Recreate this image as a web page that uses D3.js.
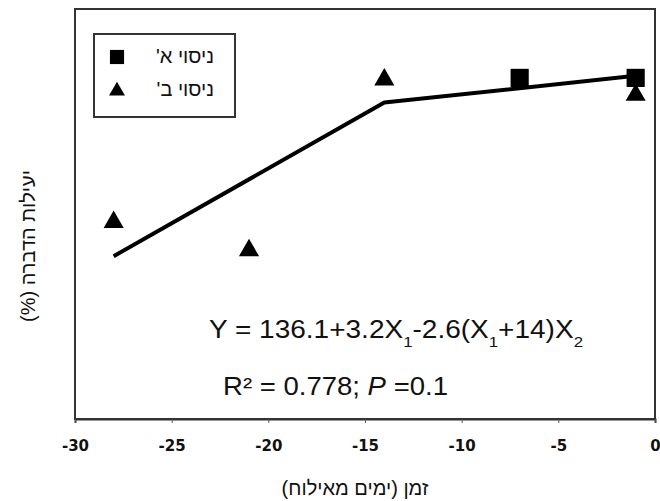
<!DOCTYPE html>
<html>
<head>
<meta charset="utf-8">
<script src="https://cdn.jsdelivr.net/npm/d3@7"></script>
<style>
  body { margin: 0; background: #fff; }
  svg text { font-family: "Liberation Sans", Arial, sans-serif; fill: #111; }
</style>
</head>
<body>
<div id="chart"></div>
<script>
// data
var daysA = [-7, -1];
var valuesA = [98.5, 98.5];
var daysB = [-28, -21, -14, -1];
var valuesB = [56.4, 48.2, 98.0, 93.5];
var fitDays = [-28, -14, -1];
var fitValues = [46.5, 91.3, 99.1];
var xTicks = [-30, -25, -20, -15, -10, -5, 0];
var legendLabels = ["ניסוי א'", "ניסוי ב'"];

var svgWidth = 660;
var svgHeight = 501;

var margin = { top: 9, right: 5, bottom: 82, left: 75 };
var width = svgWidth - margin.left - margin.right;
var height = svgHeight - margin.top - margin.bottom;

var svg = d3.select("#chart")
  .append("svg")
  .attr("width", svgWidth)
  .attr("height", svgHeight);

var chartGroup = svg.append("g")
  .attr("transform", `translate(${margin.left}, ${margin.top})`);

var xScale = d3.scaleLinear().domain([-30, 0]).range([0, width]);
var yScale = d3.scaleLinear().domain([-1, 118.6]).range([height, 0]);

// frame
chartGroup.append("rect")
  .attr("x", 0)
  .attr("y", 0)
  .attr("width", width)
  .attr("height", height)
  .attr("fill", "none")
  .attr("stroke", "#333")
  .attr("stroke-width", 2);

var bottomAxis = d3.axisBottom(xScale)
  .tickValues(xTicks)
  .tickSize(4)
  .tickPadding(17)
  .tickFormat(d3.format("d"));

var xAxis = chartGroup.append("g")
  .attr("transform", `translate(0, ${height})`)
  .call(bottomAxis);

xAxis.select(".domain").attr("stroke", "#333").attr("stroke-width", 2);
xAxis.selectAll(".tick line").attr("stroke", "#555");
xAxis.selectAll(".tick text")
  .attr("font-size", 15)
  .attr("font-weight", "bold")
  .style("font-family", "'DejaVu Sans', sans-serif")
  .attr("fill", "#333")
  .text(d => d < 0 ? "-" + Math.abs(d) : d);

// fitted line
var line = d3.line()
  .x((d, i) => xScale(fitDays[i]))
  .y(d => yScale(d));

chartGroup.append("path")
  .datum(fitValues)
  .attr("d", line)
  .attr("fill", "none")
  .attr("stroke", "#000")
  .attr("stroke-width", 4)
  .attr("stroke-linejoin", "round");

var square = d3.symbol().type(d3.symbolSquare).size(330);
var triangle = d3.symbol().type(d3.symbolTriangle).size(175);

chartGroup.selectAll(".ptA")
  .data(valuesA)
  .enter()
  .append("path")
  .attr("class", "ptA")
  .attr("d", square)
  .attr("transform", (d, i) => `translate(${xScale(daysA[i])}, ${yScale(d)})`)
  .attr("fill", "#000");

chartGroup.selectAll(".ptB")
  .data(valuesB)
  .enter()
  .append("path")
  .attr("class", "ptB")
  .attr("d", triangle)
  .attr("transform", (d, i) => `translate(${xScale(daysB[i])}, ${yScale(d)})`)
  .attr("fill", "#000");

// legend
var legend = svg.append("g");
legend.append("rect")
  .attr("x", 94)
  .attr("y", 34)
  .attr("width", 141)
  .attr("height", 83)
  .attr("fill", "#fff")
  .attr("stroke", "#333")
  .attr("stroke-width", 2);

legend.append("path")
  .attr("d", square.size(200)())
  .attr("transform", "translate(117, 57)");
legend.append("path")
  .attr("d", triangle.size(110)())
  .attr("transform", "translate(117, 91)");

legend.selectAll(".legText")
  .data(legendLabels)
  .enter()
  .append("text")
  .attr("class", "legText")
  .attr("x", 214)
  .attr("y", (d, i) => 63 + i * 33)
  .attr("direction", "rtl")
  .attr("text-anchor", "start")
  .attr("font-size", 20)
  .attr("fill", "#222")
  .text(d => d);

// equation
var eq = svg.append("text")
  .attr("x", 209)
  .attr("y", 338)
  .attr("font-size", 25)
  .attr("textLength", 374)
  .attr("lengthAdjust", "spacingAndGlyphs")
  .attr("fill", "#222");
eq.append("tspan").text("Y = 136.1+3.2X");
eq.append("tspan").attr("baseline-shift", "sub").attr("font-size", 15).text("1");
eq.append("tspan").text("-2.6(X");
eq.append("tspan").attr("baseline-shift", "sub").attr("font-size", 15).text("1");
eq.append("tspan").text("+14)X");
eq.append("tspan").attr("baseline-shift", "sub").attr("font-size", 15).text("2");

var r2 = svg.append("text")
  .attr("x", 223)
  .attr("y", 395)
  .attr("font-size", 25)
  .attr("textLength", 225)
  .attr("lengthAdjust", "spacingAndGlyphs")
  .attr("fill", "#222");
r2.append("tspan").text("R² = 0.778; ");
r2.append("tspan").attr("font-style", "italic").text("P");
r2.append("tspan").text(" =0.1");

// axis titles
svg.append("text")
  .attr("x", 355)
  .attr("y", 495)
  .attr("direction", "rtl")
  .attr("text-anchor", "middle")
  .attr("font-size", 20)
  .attr("fill", "#222")
  .text("זמן (ימים מאילוח)");

svg.append("text")
  .attr("transform", "translate(35, 246) rotate(-90)")
  .attr("direction", "rtl")
  .attr("text-anchor", "middle")
  .attr("font-size", 20)
  .attr("fill", "#222")
  .text("יעילות הדברה (%)");
</script>
</body>
</html>
